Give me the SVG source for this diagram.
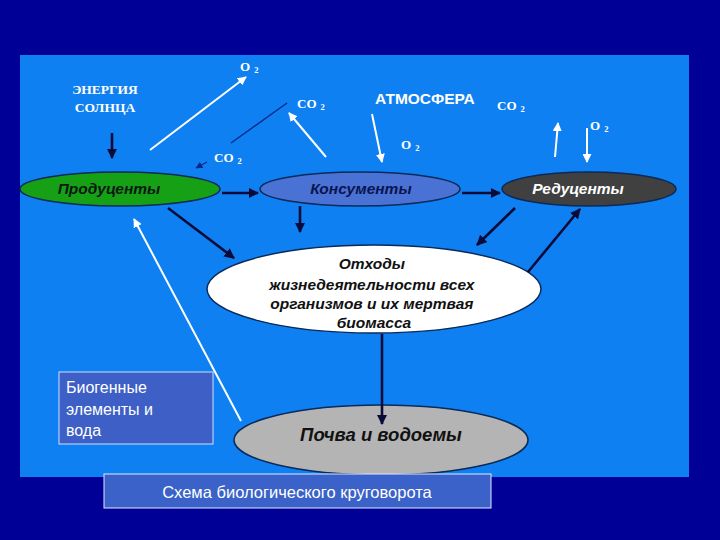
<svg xmlns="http://www.w3.org/2000/svg" width="720" height="540" viewBox="0 0 720 540">
<defs>
<style>
.ser{font-family:"Liberation Serif","Times New Roman",serif;font-weight:bold;fill:#fff}
.lbl{font-family:"Liberation Sans",Arial,sans-serif;font-weight:bold;font-style:italic;text-anchor:middle}
.plain{font-family:"Liberation Sans",Arial,sans-serif;fill:#fff}
.blk{stroke:#0b0b3a;stroke-width:2.6;fill:none}
.wht{stroke:#fff;stroke-width:2;fill:none}
</style>
<marker id="hb" viewBox="0 0 10 10" refX="9" refY="5" markerWidth="4" markerHeight="4" orient="auto" markerUnits="strokeWidth"><path d="M0,0 L10,5 L0,10 z" fill="#0b0b3a"/></marker>
<marker id="hw" viewBox="0 0 10 10" refX="9" refY="5" markerWidth="4.5" markerHeight="4.5" orient="auto" markerUnits="strokeWidth"><path d="M0,0 L10,5 L0,10 z" fill="#fff"/></marker>
<marker id="hn" viewBox="0 0 10 10" refX="9" refY="5" markerWidth="6" markerHeight="6" orient="auto" markerUnits="strokeWidth"><path d="M0,0 L10,5 L0,10 z" fill="#0a2a8a"/></marker>
</defs>
<rect x="0" y="0" width="720" height="540" fill="#000096"/>
<rect x="20" y="55" width="669" height="422" fill="#0f80f2"/>

<g id="energy">
<text class="ser" x="105" y="94" font-size="13.5" text-anchor="middle">ЭНЕРГИЯ</text>
<text class="ser" x="105" y="112" font-size="13.5" text-anchor="middle">СОЛНЦА</text>
</g>
<g id="gas-labels">
<text class="ser" x="240" y="71" font-size="13">O<tspan dx="4" dy="2" font-size="8.5">2</tspan></text>
<text class="ser" x="297" y="108" font-size="13">CO<tspan dx="4" dy="2" font-size="8.5">2</tspan></text>
<text class="ser" x="214" y="162" font-size="13">CO<tspan dx="4" dy="2" font-size="8.5">2</tspan></text>
<text class="ser" x="497" y="110" font-size="13">CO<tspan dx="4" dy="2" font-size="8.5">2</tspan></text>
<text class="ser" x="401" y="149" font-size="13">O<tspan dx="4" dy="2" font-size="8.5">2</tspan></text>
<text class="ser" x="590" y="130" font-size="13">O<tspan dx="4" dy="2" font-size="8.5">2</tspan></text>
</g>
<g id="atmosphere">
<text x="375" y="104" font-family="'Liberation Sans',Arial,sans-serif" font-weight="bold" font-size="15.5" fill="#fff">АТМОСФЕРА</text>
</g>

<g id="producers">
<ellipse cx="120" cy="189" rx="100" ry="17" fill="#16a016" stroke="#0b2a5a" stroke-width="1.5"/>
<text class="lbl" x="109" y="194" font-size="15.5" fill="#0b1a10">Продуценты</text>
</g>
<g id="consumers">
<ellipse cx="360" cy="189" rx="100" ry="17" fill="#4a72d4" stroke="#0b2a5a" stroke-width="1.5"/>
<text class="lbl" x="361" y="194" font-size="15.5" fill="#0a1450">Консументы</text>
</g>
<g id="decomposers">
<ellipse cx="589" cy="189" rx="87" ry="17" fill="#404040" stroke="#0b2a5a" stroke-width="1.5"/>
<text class="lbl" x="578" y="194" font-size="15.5" fill="#fff">Редуценты</text>
</g>
<g id="waste">
<ellipse cx="374" cy="289" rx="167" ry="44" fill="#fff" stroke="#0b2a5a" stroke-width="1.5"/>
<text class="lbl" font-size="15.5" fill="#111">
<tspan x="374" y="269">Отходы</tspan>
<tspan x="374" y="290">жизнедеятельности всех</tspan>
<tspan x="374" y="309">организмов и их мертвая</tspan>
<tspan x="374" y="328">биомасса</tspan>
</text>
</g>
<g id="soil">
<ellipse cx="381" cy="440" rx="147" ry="35" fill="#b4b4b4" stroke="#0b2a5a" stroke-width="1.5"/>
<text class="lbl" x="381" y="441" font-size="18.5" fill="#111">Почва и водоемы</text>
</g>
<g id="biogenic">
<rect x="59" y="372" width="154" height="72" fill="#3d5fc6" stroke="#cfe0ff" stroke-width="1"/>
<text class="plain" font-size="16">
<tspan x="66" y="393">Биогенные</tspan>
<tspan x="66" y="415">элементы и</tspan>
<tspan x="66" y="436">вода</tspan>
</text>
</g>
<g id="caption">
<rect x="104" y="474" width="387" height="34" fill="#3a62c8" stroke="#e0e8ff" stroke-width="1"/>
<text class="plain" x="297" y="498" font-size="16.5" text-anchor="middle">Схема биологического круговорота</text>
</g>

<g id="connectors">
<line class="blk" x1="112" y1="133" x2="112" y2="158" marker-end="url(#hb)"/>
<line class="wht" x1="150" y1="150" x2="246" y2="77" marker-end="url(#hw)"/>
<line x1="231" y1="143" x2="287" y2="103" stroke="#0a2a8a" stroke-width="1.5"/>
<line x1="207" y1="162" x2="196" y2="168" stroke="#0a2a8a" stroke-width="1.2" marker-end="url(#hn)"/>
<line class="wht" x1="326" y1="157" x2="289" y2="113" marker-end="url(#hw)"/>
<line class="wht" x1="372" y1="114" x2="382" y2="162" marker-end="url(#hw)"/>
<line class="wht" x1="555" y1="157" x2="558" y2="123" marker-end="url(#hw)"/>
<line class="wht" x1="587" y1="128" x2="587" y2="162" marker-end="url(#hw)"/>
<line class="blk" x1="222" y1="193" x2="258" y2="193" marker-end="url(#hb)"/>
<line class="blk" x1="462" y1="193" x2="500" y2="193" marker-end="url(#hb)"/>
<line class="blk" x1="300" y1="206" x2="300" y2="232" marker-end="url(#hb)"/>
<line class="blk" x1="168" y1="208" x2="234" y2="258" marker-end="url(#hb)"/>
<line class="blk" x1="515" y1="208" x2="477" y2="245" marker-end="url(#hb)"/>
<line class="blk" x1="528" y1="272" x2="580" y2="209" marker-end="url(#hb)"/>
<line class="blk" x1="382" y1="334" x2="382" y2="424" marker-end="url(#hb)"/>
<line class="wht" x1="241" y1="421" x2="134" y2="219" marker-end="url(#hw)"/>
</g>
</svg>
